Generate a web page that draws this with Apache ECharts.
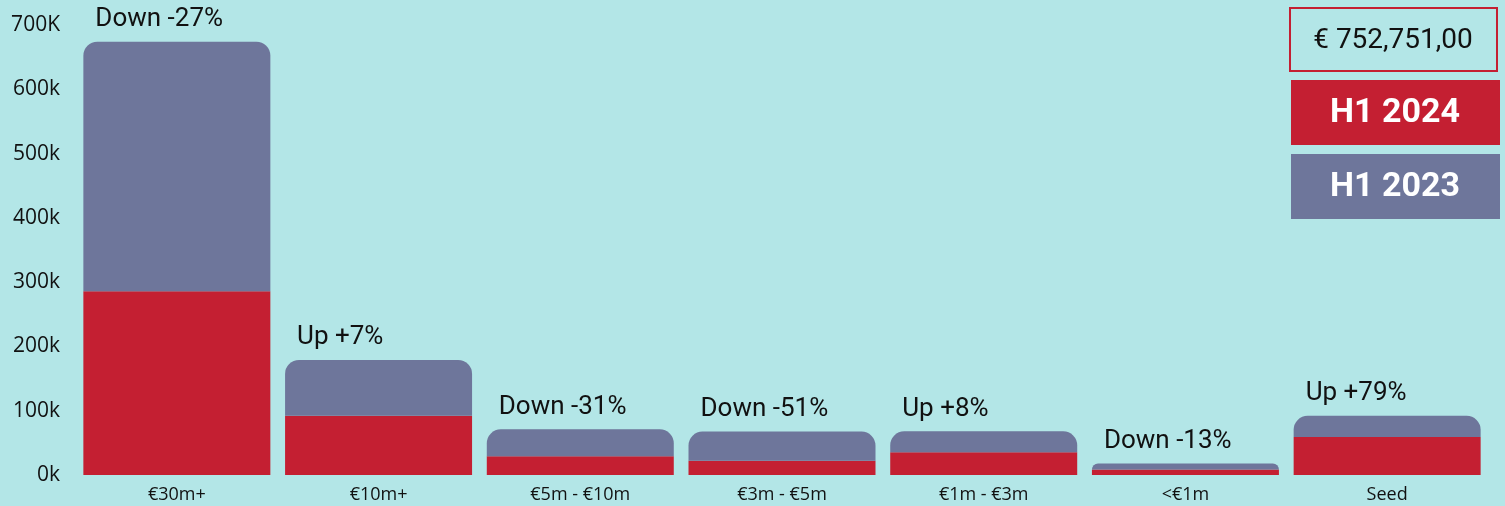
<!DOCTYPE html>
<html>
<head>
<meta charset="utf-8">
<script src="https://cdn.jsdelivr.net/npm/echarts@6/dist/echarts.min.js"></script>
<style>
  html, body { margin: 0; padding: 0; background: #b3e6e7; }
  #chart { width: 1505px; height: 506px; }
</style>
</head>
<body>
<div id="chart"></div>
<script>
// deal size buckets
const categories = ["€30m+", "€10m+", "€5m - €10m", "€3m - €5m", "€1m - €3m", "<€1m", "Seed"];
// H1 2024 (red, bottom of stack)
const h1_2024 = [286000, 92000, 29000, 22000, 35500, 8500, 59000];
// H1 2023 (grey, stacked on top)
const h1_2023 = [388000, 87000, 42000, 45500, 32500, 9500, 33000];
// change labels shown above each bar
const changeLabels = ["Down -27%", "Up +7%", "Down -31%", "Down -51%", "Up +8%", "Down -13%", "Up +79%"];
const yTicks = [0, 100000, 200000, 300000, 400000, 500000, 600000, 700000];
const yTickLabels = ["0k", "100k", "200k", "300k", "400k", "500k", "600k", "700K"];
const totalText = "€ 752,751,00";
const legendNames = ["H1 2024", "H1 2023"];

const RED = "#c41f32";
const GREY = "#6e769b";
const axisFont = "'Open Sans', 'DejaVu Sans', sans-serif";

const chart = echarts.init(document.getElementById("chart"));

const option = {
  backgroundColor: "#b3e6e7",
  animation: false,
  grid: { left: 76, right: 17, top: 25, bottom: 31, containLabel: false },
  xAxis: {
    type: "category",
    data: categories,
    axisLine: { show: false },
    axisTick: { show: false },
    axisLabel: { color: "#111", fontSize: 18, fontFamily: axisFont, margin: 11 }
  },
  yAxis: {
    type: "value",
    min: 0,
    max: 700000,
    interval: 100000,
    splitLine: { show: false },
    axisLine: { show: false },
    axisTick: { show: false },
    axisLabel: {
      color: "#111",
      fontSize: 21,
      fontFamily: axisFont,
      margin: 16,
      formatter: v => yTickLabels[yTicks.indexOf(v)]
    }
  },
  series: [
    {
      name: legendNames[0],
      type: "bar",
      stack: "total",
      barCategoryGap: "7.3%",
      itemStyle: { color: RED },
      data: h1_2024
    },
    {
      name: legendNames[1],
      type: "bar",
      stack: "total",
      barCategoryGap: "7.3%",
      itemStyle: { color: GREY, borderRadius: [14, 14, 0, 0] },
      label: {
        show: true,
        position: [12, -22],
        align: "left",
        verticalAlign: "middle",
        color: "#111",
        fontSize: 26,
        fontFamily: "Roboto, sans-serif",
        formatter: p => changeLabels[p.dataIndex]
      },
      data: h1_2023
    }
  ],
  graphic: [
    {
      type: "rect",
      shape: { x: 1290, y: 8, width: 207, height: 63 },
      style: { fill: "transparent", stroke: RED, lineWidth: 2 }
    },
    {
      type: "text",
      x: 1393, y: 41,
      style: {
        text: totalText, fill: "#111", fontSize: 28,
        fontFamily: "Roboto, sans-serif", align: "center", verticalAlign: "middle"
      }
    },
    {
      type: "rect",
      shape: { x: 1291, y: 80, width: 209, height: 65 },
      style: { fill: RED }
    },
    {
      type: "text",
      x: 1395, y: 113,
      style: {
        text: legendNames[0], fill: "#fff", fontSize: 34, fontWeight: "bold",
        fontFamily: "Roboto, sans-serif", align: "center", verticalAlign: "middle"
      }
    },
    {
      type: "rect",
      shape: { x: 1291, y: 154, width: 209, height: 65 },
      style: { fill: GREY }
    },
    {
      type: "text",
      x: 1395, y: 187,
      style: {
        text: legendNames[1], fill: "#fff", fontSize: 34, fontWeight: "bold",
        fontFamily: "Roboto, sans-serif", align: "center", verticalAlign: "middle"
      }
    }
  ]
};

chart.setOption(option);
</script>
</body>
</html>
